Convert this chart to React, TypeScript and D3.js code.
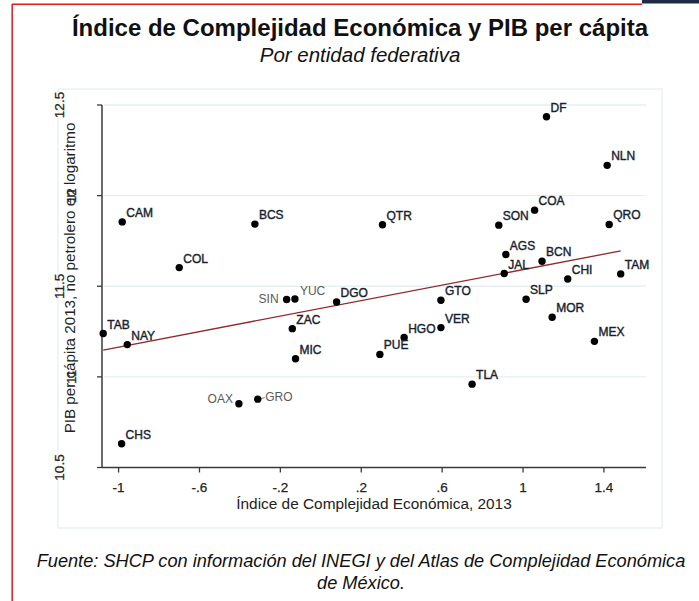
import React from "react";
import * as d3 from "d3";

const states = ["DF","NLN","COA","SON","QRO","QTR","BCS","CAM","AGS","BCN","JAL","TAM","CHI","COL","GTO","SLP","SIN","YUC","DGO","MOR","VER","ZAC","HGO","TAB","NAY","MEX","PUE","MIC","TLA","GRO","OAX","CHS"];
const ice = [1.116,1.416,1.057,0.880,1.426,0.305,-0.326,-0.982,0.915,1.094,0.907,1.483,1.221,-0.700,0.594,1.015,-0.169,-0.128,0.078,1.144,0.594,-0.141,0.412,-1.076,-0.957,1.353,0.292,-0.125,0.748,-0.312,-0.405,-0.985];
const pib = [12.435,12.167,11.920,11.837,11.841,11.839,11.843,11.855,11.675,11.638,11.570,11.568,11.540,11.603,11.423,11.428,11.427,11.430,11.413,11.329,11.272,11.266,11.217,11.239,11.178,11.196,11.124,11.100,10.960,10.877,10.852,10.631];

const fitX = [-1.076, 1.483];
const fitY = [11.148, 11.695];

const xTicks = [-1, -0.6, -0.2, 0.2, 0.6, 1, 1.4];
const xTickLabels = ["-1", "-.6", "-.2", ".2", ".6", "1", "1.4"];
const yTicks = [10.5, 11, 11.5, 12, 12.5];
const yTickLabels = ["10.5", "11", "11.5", "12", "12.5"];

const title = "Índice de Complejidad Económica y PIB per cápita";
const subtitle = "Por entidad federativa";
const xTitle = "Índice de Complejidad Económica, 2013";
const yTitle = "PIB per cápita 2013, no petrolero en logaritmo";
const source1 = "Fuente: SHCP con información del INEGI y del Atlas de Complejidad Económica";
const source2 = "de México.";

// label placement overrides (style only)
const special: Record<string, { dx: number; dy: number; anchor: string; gray: boolean; dash?: boolean }> = {
  SIN: { dx: -8, dy: 3.5, anchor: "end", gray: true },
  YUC: { dx: 5, dy: -4, anchor: "start", gray: true },
  OAX: { dx: -6, dy: -1, anchor: "end", gray: true },
  GRO: { dx: 7.5, dy: 2, anchor: "start", gray: true, dash: true },
};

export default function App() {
  const W = 699, H = 601;
  const x = d3.scaleLinear().domain([-1.082, 1.608]).range([102, 646]);
  const y = d3.scaleLinear().domain([10.5, 12.5]).range([467.5, 105]);
  const font = "'Liberation Sans', Arial, Helvetica, sans-serif";
  const line = d3.line<number>().x((d) => x(fitX[d])).y((d) => y(fitY[d]));
  const x0 = x.range()[0], x1 = x.range()[1];
  const yb = y(10.5), yt = y(12.5);

  return (
    <svg width={W} height={H} style={{ position: "absolute", left: 0, top: 0, background: "#fff" }} fontFamily={font}>
      <rect x={0} y={0} width={W} height={H} fill="#fff" />
      {/* frame */}
      <rect x={642} y={0} width={57} height={3.5} fill="#1f2b45" />
      <line x1={12} y1={4.2} x2={642} y2={4.2} stroke="#e01b1b" strokeWidth={1.5} />
      <line x1={12.2} y1={4} x2={12.2} y2={H} stroke="#e01b1b" strokeWidth={1.5} />
      {/* panel */}
      <rect x={58} y={89} width={604} height={439} fill="none" stroke="#e4edf1" strokeWidth={1.2} />

      {/* titles */}
      <text x={360} y={36} textAnchor="middle" fontSize={24} fontWeight="bold" fill="#111">{title}</text>
      <text x={360} y={62} textAnchor="middle" fontSize={20.5} fontStyle="italic" fill="#111">{subtitle}</text>

      {/* gridlines */}
      {yTicks.filter((t) => t > 10.5).map((t) => (
        <line key={t} x1={x0 + 2} x2={x1} y1={y(t)} y2={y(t)} stroke="#e6eff2" strokeWidth={1.3} />
      ))}

      {/* axes */}
      <line x1={x0} x2={x0} y1={yt} y2={yb} stroke="#3a3a3a" strokeWidth={1.5} />
      <line x1={x0} x2={x1} y1={yb} y2={yb} stroke="#3a3a3a" strokeWidth={1.5} />
      <text transform={`translate(75,278) rotate(-90)`} textAnchor="middle" fontSize={15.2} fill="#222">{yTitle}</text>
      {yTicks.map((t, i) => (
        <g key={t}>
          <line x1={x0 - 5} x2={x0} y1={y(t)} y2={y(t)} stroke="#3a3a3a" strokeWidth={1.3} />
          <text transform={`translate(${i % 2 === 0 ? 64 : 76},${y(t)}) rotate(-90)`} textAnchor="middle" fontSize={13.5} fill="#222" stroke="#222" strokeWidth={0.25}>{yTickLabels[i]}</text>
        </g>
      ))}
      {xTicks.map((t, i) => (
        <g key={t}>
          <line x1={x(t)} x2={x(t)} y1={yb} y2={yb + 5} stroke="#3a3a3a" strokeWidth={1.3} />
          <text x={x(t)} y={492} textAnchor="middle" fontSize={13.5} fill="#222" stroke="#222" strokeWidth={0.25}>{xTickLabels[i]}</text>
        </g>
      ))}
      <text x={374} y={509} textAnchor="middle" fontSize={15.4} fill="#222">{xTitle}</text>

      {/* fit line */}
      <path d={line([0, 1]) || ""} fill="none" stroke="#8e2b2b" strokeWidth={1.3} />

      {/* points */}
      {states.map((s, i) => {
        const cx = x(ice[i]), cy = y(pib[i]);
        const sp = special[s];
        const dx = sp ? sp.dx : 4, dy = sp ? sp.dy : -5;
        const col = sp && sp.gray ? "#5a5a5a" : "#1a1f30";
        return (
          <g key={s}>
            {sp && sp.dash && (
              <line x1={cx + 3} x2={cx + 7} y1={cy - 0.5} y2={cy - 1.5} stroke="#777" strokeWidth={1} />
            )}
            <circle cx={cx} cy={cy} r={3.7} fill="#000" />
            <text x={cx + dx} y={cy + dy} textAnchor={sp ? sp.anchor : "start"} fontSize={12} fill={col} stroke={sp && sp.gray ? "none" : col} strokeWidth={0.4}>{s}</text>
          </g>
        );
      })}

      {/* source */}
      <text x={361} y={567} textAnchor="middle" fontSize={18.2} fontStyle="italic" fill="#111">{source1}</text>
      <text x={361} y={589} textAnchor="middle" fontSize={18.2} fontStyle="italic" fill="#111">{source2}</text>
    </svg>
  );
}
